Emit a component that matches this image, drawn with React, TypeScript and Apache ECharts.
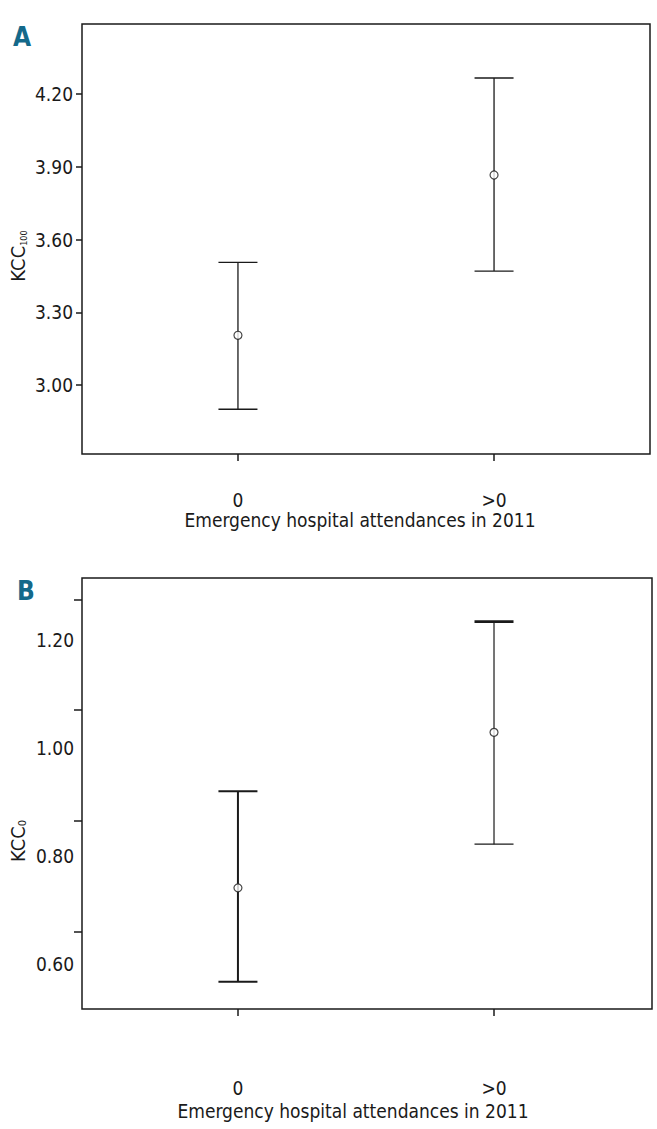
import React, { useEffect, useRef } from "react";
import * as echarts from "echarts";

// Groups (x categories)
const groups = ["0", ">0"];

// Panel A: KCC100 mean with 95% CI
const kcc100Mean = [3.205, 3.866];
const kcc100Low = [2.9, 3.47];
const kcc100High = [3.506, 4.266];
const kcc100Ticks = [3.0, 3.3, 3.6, 3.9, 4.2];

// Panel B: KCC0 mean with 95% CI
const kcc0Mean = [0.741, 1.029];
const kcc0Low = [0.567, 0.822];
const kcc0High = [0.92, 1.234];
const kcc0Labels = [0.6, 0.8, 1.0, 1.2];
const kcc0TickMarks = [0.659, 0.865, 1.07, 1.275];

const FONT = "'Liberation Sans Narrow', 'DejaVu Sans Condensed', 'Arial Narrow', sans-serif";
const INK = "#1a1a1a";
const FS = 19;

function errorBarSeries(gridIdx: number, low: number[], high: number[], widths: number[][]) {
  return {
    type: "custom",
    xAxisIndex: gridIdx,
    yAxisIndex: gridIdx,
    data: groups.map((_, i) => [i, low[i], high[i]]),
    encode: { x: 0, y: [1, 2] },
    renderItem: (params: any, api: any) => {
      const i = params.dataIndex;
      const x = api.value(0);
      const lo = api.coord([x, api.value(1)]);
      const hi = api.coord([x, api.value(2)]);
      const hw = 19.5;
      const [wStem, wTop, wBot] = widths[i];
      return {
        type: "group",
        children: [
          { type: "line", shape: { x1: lo[0], y1: lo[1], x2: hi[0], y2: hi[1] }, style: { stroke: INK, lineWidth: wStem } },
          { type: "line", shape: { x1: hi[0] - hw, y1: hi[1], x2: hi[0] + hw, y2: hi[1] }, style: { stroke: INK, lineWidth: wTop } },
          { type: "line", shape: { x1: lo[0] - hw, y1: lo[1], x2: lo[0] + hw, y2: lo[1] }, style: { stroke: INK, lineWidth: wBot } },
        ],
      };
    },
    z: 3,
  };
}

function meanSeries(gridIdx: number, mean: number[]) {
  return {
    type: "scatter",
    xAxisIndex: gridIdx,
    yAxisIndex: gridIdx,
    data: groups.map((_, i) => [i, mean[i]]),
    symbol: "circle",
    symbolSize: 8,
    itemStyle: { color: "#fff", borderColor: INK, borderWidth: 1.2 },
    z: 5,
  };
}

function xAxisCfg(gridIdx: number, min: number, max: number, labelMargin: number, nameGap: number, shiftLeft: number) {
  return {
    type: "value",
    gridIndex: gridIdx,
    min,
    max,
    axisLine: { show: false, onZero: false },
    splitLine: { show: false },
    axisTick: { show: true, customValues: [0, 1], length: 7, lineStyle: { color: INK, width: 1.5 } },
    axisLabel: {
      customValues: [0, 1],
      formatter: (v: number) => groups[Math.round(v)] ?? "",
      margin: labelMargin,
      fontSize: FS,
      fontFamily: FONT,
      color: INK,
    },
    name: "Emergency hospital attendances in 2011",
    nameLocation: "middle",
    nameGap,
    nameTextStyle: { fontSize: FS, fontFamily: FONT, color: INK, padding: [0, shiftLeft * 2, 0, 0] },
  };
}

function yAxisCfg(gridIdx: number, min: number, max: number, labels: number[], ticks: number[], tickLen: number, margin: number) {
  return {
    type: "value",
    gridIndex: gridIdx,
    min,
    max,
    axisLine: { show: false, onZero: false },
    splitLine: { show: false },
    axisTick: { show: true, customValues: ticks, length: tickLen, lineStyle: { color: INK, width: 1.5 } },
    axisLabel: {
      customValues: labels,
      formatter: (v: number) => v.toFixed(2),
      margin,
      fontSize: FS,
      fontFamily: FONT,
      color: INK,
    },
  };
}

export default function App() {
  const ref = useRef<HTMLDivElement>(null);
  useEffect(() => {
    if (!ref.current) return;
    const chart = echarts.init(ref.current, null, { renderer: "svg" });
    chart.setOption({
      animation: false,
      backgroundColor: "#fff",
      grid: [
        { left: 82, top: 24, width: 568, height: 430, show: true, borderColor: INK, borderWidth: 1.5, backgroundColor: "transparent" },
        { left: 82, top: 578, width: 570, height: 431, show: true, borderColor: INK, borderWidth: 1.5, backgroundColor: "transparent" },
      ],
      xAxis: [xAxisCfg(0, -0.609, 1.609, 36, 56, 6), xAxisCfg(1, -0.609, 1.617, 69, 92, 14)],
      yAxis: [
        yAxisCfg(0, 2.7155, 4.4887, kcc100Ticks, kcc100Ticks, 6, 9),
        yAxisCfg(1, 0.5167, 1.3148, kcc0Labels, kcc0TickMarks, 8, 8),
      ],
      series: [
        errorBarSeries(0, kcc100Low, kcc100High, [[1.3, 1.3, 1.3], [1.3, 1.6, 1.3]]),
        meanSeries(0, kcc100Mean),
        errorBarSeries(1, kcc0Low, kcc0High, [[2, 2, 2], [1.2, 2.6, 1.3]]),
        meanSeries(1, kcc0Mean),
      ],
      graphic: [
        { type: "text", left: 13, top: 24, style: { text: "A", font: `bold 26px ${FONT}`, fill: "#14698a" } },
        { type: "text", left: 17, top: 578, style: { text: "B", font: `bold 26px ${FONT}`, fill: "#14698a" } },
        {
          type: "text",
          x: 18,
          y: 256,
          rotation: Math.PI / 2,
          style: {
            text: "{a|KCC}{b|100}",
            align: "center",
            verticalAlign: "middle",
            fill: INK,
            rich: {
              a: { fontSize: 20, fontFamily: FONT, fill: INK, verticalAlign: "bottom" },
              b: { fontSize: 9, fontFamily: FONT, fill: INK, verticalAlign: "bottom" },
            },
          },
        },
        {
          type: "text",
          x: 18,
          y: 841,
          rotation: Math.PI / 2,
          style: {
            text: "{a|KCC}{b|0}",
            align: "center",
            verticalAlign: "middle",
            fill: INK,
            rich: {
              a: { fontSize: 20, fontFamily: FONT, fill: INK, verticalAlign: "bottom" },
              b: { fontSize: 11, fontFamily: FONT, fill: INK, verticalAlign: "bottom" },
            },
          },
        },
      ],
    });
    return () => chart.dispose();
  }, []);
  return <div ref={ref} style={{ position: "fixed", left: 0, top: 0, width: 657, height: 1129 }} />;
}
